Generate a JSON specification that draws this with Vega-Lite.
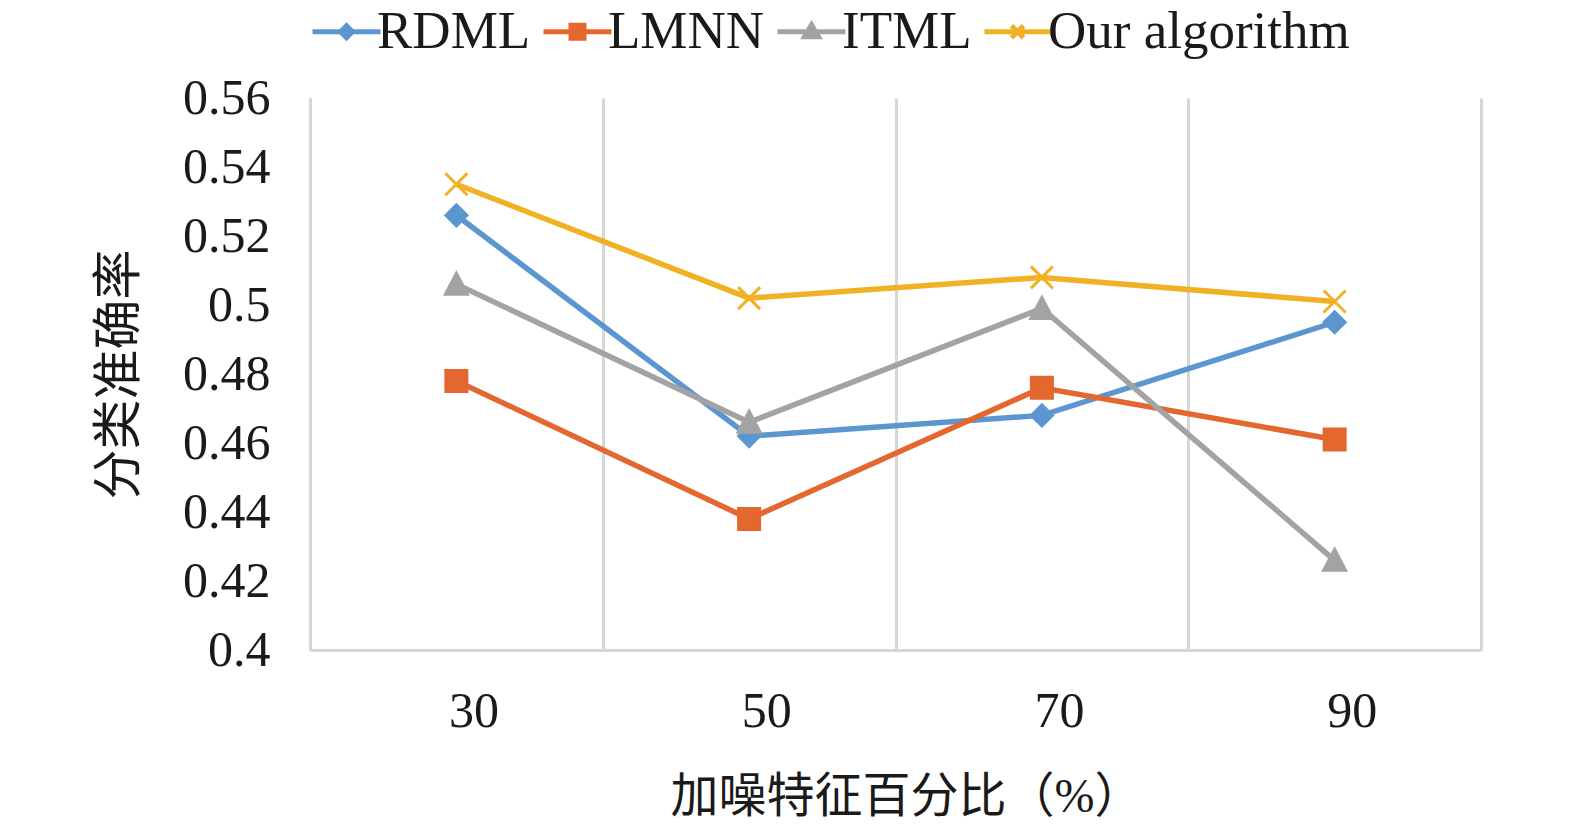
{
  "$schema": "https://vega.github.io/schema/vega-lite/v6.json",
  "width": 1171,
  "height": 552,
  "autosize": {"type": "none"},
  "padding": {"left": 310, "top": 98, "right": 94, "bottom": 177},
  "background": "white",
  "config": {"view": {"stroke": null}, "font": "Liberation Serif"},
  "data": {
    "values": [
      {"noise": 30, "series": "RDML", "acc": 0.526},
      {"noise": 50, "series": "RDML", "acc": 0.462},
      {"noise": 70, "series": "RDML", "acc": 0.468},
      {"noise": 90, "series": "RDML", "acc": 0.495},
      {"noise": 30, "series": "LMNN", "acc": 0.478},
      {"noise": 50, "series": "LMNN", "acc": 0.438},
      {"noise": 70, "series": "LMNN", "acc": 0.476},
      {"noise": 90, "series": "LMNN", "acc": 0.461},
      {"noise": 30, "series": "ITML", "acc": 0.506},
      {"noise": 50, "series": "ITML", "acc": 0.466},
      {"noise": 70, "series": "ITML", "acc": 0.499},
      {"noise": 90, "series": "ITML", "acc": 0.426},
      {"noise": 30, "series": "Our algorithm", "acc": 0.535},
      {"noise": 50, "series": "Our algorithm", "acc": 0.502},
      {"noise": 70, "series": "Our algorithm", "acc": 0.508},
      {"noise": 90, "series": "Our algorithm", "acc": 0.501}
    ]
  },
  "encoding": {
    "x": {
      "field": "noise",
      "type": "ordinal",
      "scale": {"type": "band", "paddingInner": 0, "paddingOuter": 0},
      "axis": {
        "title": "加噪特征百分比（%）",
        "titleFont": "Liberation Serif, Noto Sans CJK SC",
        "titleFontSize": 48,
        "titleFontWeight": "normal",
        "titleColor": "#1a1a1a",
        "titlePadding": 37,
        "titleX": 596,
        "labelAngle": 0,
        "labelFont": "Liberation Serif",
        "labelFontSize": 50,
        "labelColor": "#1a1a1a",
        "labelPadding": 36,
        "labelOffset": 17,
        "ticks": false,
        "tickBand": "extent",
        "grid": true,
        "gridColor": "#D6D6D6",
        "gridWidth": 3,
        "domainColor": "#D6D6D6",
        "domainWidth": 3
      }
    },
    "y": {
      "field": "acc",
      "type": "quantitative",
      "scale": {"domain": [0.4, 0.56], "nice": false, "zero": false},
      "axis": {
        "title": "分类准确率",
        "titleFont": "Noto Sans CJK SC",
        "titleFontSize": 50,
        "titleFontWeight": "normal",
        "titleColor": "#1a1a1a",
        "titlePadding": 38,
        "values": [0.4, 0.42, 0.44, 0.46, 0.48, 0.5, 0.52, 0.54, 0.56],
        "format": "~g",
        "labelFont": "Liberation Serif",
        "labelFontSize": 50,
        "labelColor": "#1a1a1a",
        "labelPadding": 40,
        "ticks": false,
        "grid": false,
        "domainColor": "#D6D6D6",
        "domainWidth": 3
      }
    },
    "color": {
      "field": "series",
      "type": "nominal",
      "scale": {
        "domain": ["RDML", "LMNN", "ITML", "Our algorithm"],
        "range": ["#5B96D0", "#E3672F", "#A3A3A6", "#F0B125"]
      },
      "legend": {
        "orient": "none",
        "legendX": 10,
        "legendY": -93,
        "direction": "horizontal",
        "title": null,
        "padding": 0,
        "labelFont": "Liberation Serif",
        "labelFontSize": 53,
        "labelColor": "#1a1a1a",
        "labelOffset": 4,
        "labelLimit": 500,
        "columnPadding": 2,
        "symbolSize": 400,
        "symbolStrokeWidth": 5,
        "symbolOpacity": 1,
        "encode": {
          "symbols": {
            "update": {
              "shape": {"signal": "datum.value == 'RDML' ? 'M-3.4,0L3.4,0M0,-0.6L0.6,0L0,0.6L-0.6,0Z' : datum.value == 'LMNN' ? 'M-3.4,0L3.4,0M-0.65,-0.65L0.65,-0.65L0.65,0.65L-0.65,0.65Z' : datum.value == 'ITML' ? 'M-3.4,0L3.4,0M0,-0.7L0.7,0.5L-0.7,0.5Z' : 'M-3.3,0L3.3,0M-0.6,-0.6L0.6,0.6M-0.6,0.6L0.6,-0.6'"},
              "fill": {"signal": "scale('color', datum.value)"},
              "stroke": {"signal": "scale('color', datum.value)"},
              "strokeWidth": {"value": 5}
            }
          }
        }
      }
    }
  },
  "layer": [
    {"mark": {"type": "line", "strokeWidth": 5.5}},
    {
      "transform": [{"filter": "datum.series == 'RDML'"}],
      "mark": {"type": "point", "shape": "M0,-1.05L1.05,0L0,1.05L-1.05,0Z", "filled": true, "size": 400, "stroke": "#5B96D0", "strokeWidth": 3, "opacity": 1}
    },
    {
      "transform": [{"filter": "datum.series == 'LMNN'"}],
      "mark": {"type": "point", "shape": "M-1.05,-1.05L1.05,-1.05L1.05,1.05L-1.05,1.05Z", "filled": true, "size": 400, "stroke": "#E3672F", "strokeWidth": 3, "opacity": 1}
    },
    {
      "transform": [{"filter": "datum.series == 'ITML'"}],
      "mark": {"type": "point", "shape": "M0,-1.1L1.1,1L-1.1,1Z", "filled": true, "size": 400, "stroke": "#A3A3A6", "strokeWidth": 3, "opacity": 1}
    },
    {
      "transform": [{"filter": "datum.series == 'Our algorithm'"}],
      "mark": {"type": "point", "shape": "M-1.1,-1.1L1.1,1.1M-1.1,1.1L1.1,-1.1", "filled": true, "size": 400, "stroke": "#F0B125", "strokeWidth": 3, "opacity": 1}
    }
  ]
}
